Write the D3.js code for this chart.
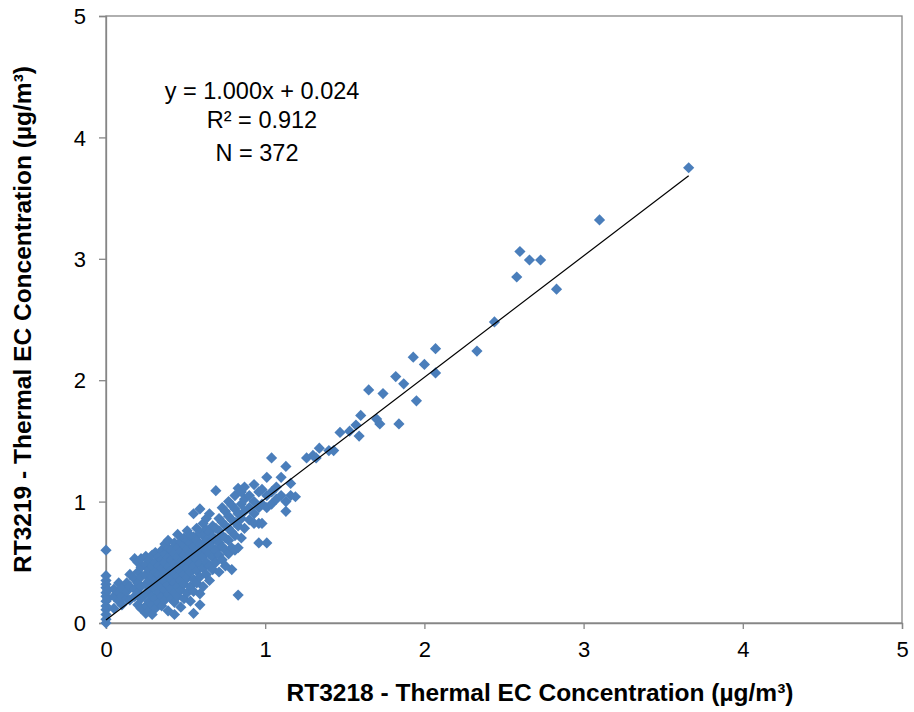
<!DOCTYPE html>
<html><head><meta charset="utf-8">
<script src="https://cdn.jsdelivr.net/npm/d3@7"></script>
<style>body{margin:0;background:#fff}svg{display:block}</style>
</head><body>
<svg id="c" width="914" height="712"></svg>
<script>
const xTicks = [0,1,2,3,4,5];
const yTicks = [0,1,2,3,4,5];
const xTitle = "RT3218 - Thermal EC Concentration (µg/m³)";
const yTitle = "RT3219 - Thermal EC Concentration (µg/m³)";
const eqLines = ["y = 1.000x + 0.024", "R² = 0.912", "N = 372"];
const slope = 1.000, intercept = 0.024;

// points along x = 0
const axisX = [0,0,0,0,0,0,0,0,0,0,0,0,0,0.01,0.01];
const axisY = [0.00,0.03,0.07,0.11,0.14,0.18,0.22,0.25,0.29,0.32,0.35,0.39,0.60,0.20,0.27];

// dense cluster, by column: [x, [y...]]
const clusterCols = [
 [0.05,[0.12,0.22,0.28]],
 [0.08,[0.18,0.25,0.33]],
 [0.10,[0.15,0.22,0.29]],
 [0.13,[0.20,0.26,0.33]],
 [0.15,[0.19,0.30,0.40]],
 [0.18,[0.22,0.28,0.36,0.53]],
 [0.20,[0.15,0.25,0.33,0.42,0.50]],
 [0.22,[0.12,0.20,0.30,0.38,0.46,0.53]],
 [0.25,[0.08,0.14,0.24,0.32,0.40,0.48,0.55]],
 [0.27,[0.10,0.18,0.27,0.35,0.44,0.52]],
 [0.29,[0.07,0.15,0.22,0.30,0.38,0.47,0.56]],
 [0.31,[0.12,0.20,0.28,0.36,0.42,0.50,0.58]],
 [0.33,[0.17,0.25,0.33,0.40,0.47,0.55]],
 [0.35,[0.14,0.22,0.30,0.37,0.45,0.52,0.60]],
 [0.37,[0.19,0.27,0.34,0.42,0.50,0.57,0.65]],
 [0.39,[0.10,0.24,0.31,0.38,0.46,0.54,0.62,0.68]],
 [0.41,[0.20,0.28,0.36,0.44,0.52,0.60]],
 [0.43,[0.07,0.17,0.25,0.33,0.41,0.49,0.57,0.66]],
 [0.45,[0.22,0.30,0.38,0.46,0.54,0.62,0.73]],
 [0.47,[0.13,0.27,0.35,0.43,0.51,0.59,0.67]],
 [0.49,[0.20,0.32,0.40,0.48,0.56,0.64,0.70]],
 [0.51,[0.25,0.37,0.45,0.53,0.61,0.68,0.76]],
 [0.53,[0.18,0.30,0.42,0.50,0.58,0.66,0.72]],
 [0.55,[0.08,0.26,0.36,0.47,0.55,0.63,0.71,0.90]],
 [0.57,[0.33,0.43,0.52,0.60,0.68,0.78]],
 [0.59,[0.15,0.24,0.38,0.49,0.57,0.65,0.74,0.94]],
 [0.61,[0.30,0.45,0.55,0.63,0.72,0.82]],
 [0.63,[0.40,0.50,0.60,0.68,0.77,0.86]],
 [0.65,[0.35,0.47,0.57,0.66,0.75,0.90]],
 [0.67,[0.44,0.54,0.62,0.71,0.80]],
 [0.69,[0.50,0.60,0.69,0.78,1.09]],
 [0.71,[0.42,0.56,0.66,0.76,0.86]],
 [0.73,[0.52,0.63,0.72,0.83,0.95]],
 [0.75,[0.47,0.60,0.70,0.80,0.92]],
 [0.77,[0.57,0.68,0.78,0.88,1.00]],
 [0.79,[0.44,0.62,0.75,0.85,0.97]],
 [0.81,[0.60,0.72,0.83,0.94,1.05]],
 [0.83,[0.23,0.62,0.80,0.90,1.11]],
 [0.85,[0.70,0.86,0.98,1.08]],
 [0.87,[0.78,0.92,1.02,1.12]],
 [0.90,[0.85,0.95,1.05]],
 [0.93,[0.82,0.90,1.00,1.14]],
 [0.96,[0.66,0.82,0.95,1.08]],
 [0.98,[0.82,0.98,1.10]],
 [1.01,[0.66,0.95,1.05,1.20]],
 [1.04,[0.98,1.08,1.36]],
 [1.07,[1.02,1.12]],
 [1.10,[1.05,1.20]],
 [1.13,[0.92,1.00,1.29]],
 [1.16,[1.05,1.15]],
 [1.19,[1.04]]
];

// sparse upper range
const outX = [1.26,1.30,1.32,1.34,1.40,1.43,1.47,1.53,1.57,1.59,1.60,1.65,1.70,1.72,1.74,1.82,1.84,1.87,1.93,1.95,2.00,2.07,2.07,2.33,2.44,2.58,2.60,2.66,2.73,2.83,3.10,3.66];
const outY = [1.36,1.38,1.36,1.44,1.42,1.42,1.57,1.58,1.63,1.54,1.71,1.92,1.68,1.64,1.89,2.03,1.64,1.97,2.19,1.83,2.13,2.06,2.26,2.24,2.48,2.85,3.06,2.99,2.99,2.75,3.32,3.75];

const pts = [];
axisX.forEach((x,i)=>pts.push([x,axisY[i]]));
clusterCols.forEach(([x,ys])=>ys.forEach(y=>pts.push([x,y])));
outX.forEach((x,i)=>pts.push([x,outY[i]]));

const L=106, R=902, T=16, B=623;
const x = d3.scaleLinear().domain([0,5]).range([L,R]);
const y = d3.scaleLinear().domain([0,5]).range([B,T]);
const svg = d3.select("#c");
const font = "'Liberation Sans', Arial, sans-serif";
const axisColor = "#868686";

// plot border
svg.append("rect").attr("x",L).attr("y",T).attr("width",R-L).attr("height",B-T)
  .attr("fill","none").attr("stroke",axisColor).attr("stroke-width",1.3);

const gx = svg.append("g").attr("transform",`translate(0,${B})`)
  .call(d3.axisBottom(x).tickValues(xTicks).tickSize(6).tickPadding(12).tickFormat(d3.format("d")));
const gy = svg.append("g").attr("transform",`translate(${L},0)`)
  .call(d3.axisLeft(y).tickValues(yTicks).tickSize(7).tickPadding(13).tickFormat(d3.format("d")));
[gx,gy].forEach(g=>{
  g.selectAll("path,line").attr("stroke",axisColor).attr("stroke-width",1.3);
  g.selectAll("text").attr("font-family",font).attr("font-size",22).attr("fill","#000");
});
gy.selectAll("text").attr("dy","0.35em");

// markers
const diamond = "M0,-5.6L5.6,0L0,5.6L-5.6,0Z";
svg.append("g").selectAll("path").data(pts).join("path")
  .attr("d",diamond)
  .attr("transform",d=>`translate(${x(d[0])},${y(d[1])})`)
  .attr("fill","#4a7ebb");

// trendline
const xMax = d3.max(pts,d=>d[0]);
svg.append("line")
  .attr("x1",x(0)).attr("y1",y(intercept))
  .attr("x2",x(xMax)).attr("y2",y(slope*xMax+intercept))
  .attr("stroke","#000").attr("stroke-width",1.2);

// equation text
const eqPos = [[262,99],[262,128],[257,161]];
eqLines.forEach((t,i)=>{
  svg.append("text").attr("x",eqPos[i][0]).attr("y",eqPos[i][1])
    .attr("text-anchor","middle").attr("font-family",font).attr("font-size",23.5).text(t);
});

// axis titles
svg.append("text").attr("x",540).attr("y",701).attr("text-anchor","middle")
  .attr("font-family",font).attr("font-size",24.5).attr("font-weight","bold").text(xTitle);
svg.append("text").attr("transform",`translate(31,${(T+B)/2}) rotate(-90)`)
  .attr("text-anchor","middle")
  .attr("font-family",font).attr("font-size",24.5).attr("font-weight","bold").text(yTitle);
</script>
</body></html>
